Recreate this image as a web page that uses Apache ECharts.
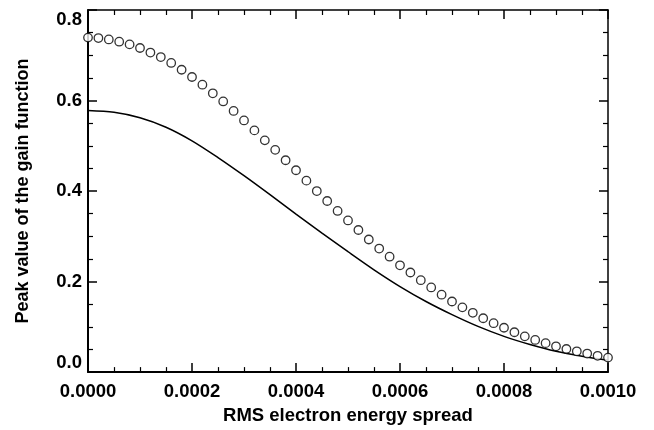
<!DOCTYPE html>
<html>
<head>
<meta charset="utf-8">
<script src="https://cdn.jsdelivr.net/npm/echarts@6/dist/echarts.min.js"></script>
<style>
html,body{margin:0;padding:0;background:#fff;}
#chart{width:654px;height:430px;}
</style>
</head>
<body>
<div id="chart"></div>
<script>
// Solid line: x values and peak gain values
var lineX = [0, 0.00005, 0.0001, 0.00015, 0.0002, 0.00025, 0.0003, 0.00035, 0.0004, 0.00045, 0.0005,
             0.00055, 0.0006, 0.00065, 0.0007, 0.00075, 0.0008, 0.00085, 0.0009, 0.00095, 0.001];
var lineY = [0.578, 0.574, 0.562, 0.541, 0.511, 0.474, 0.434, 0.392, 0.349, 0.307, 0.266,
             0.226, 0.189, 0.156, 0.127, 0.101, 0.079, 0.061, 0.046, 0.035, 0.026];

// Open circles: x values and peak gain values
var circX = [0, 0.00002, 0.00004, 0.00006, 0.00008, 0.0001, 0.00012, 0.00014, 0.00016, 0.00018,
             0.0002, 0.00022, 0.00024, 0.00026, 0.00028, 0.0003, 0.00032, 0.00034, 0.00036, 0.00038,
             0.0004, 0.00042, 0.00044, 0.00046, 0.00048, 0.0005, 0.00052, 0.00054, 0.00056, 0.00058,
             0.0006, 0.00062, 0.00064, 0.00066, 0.00068, 0.0007, 0.00072, 0.00074, 0.00076, 0.00078,
             0.0008, 0.00082, 0.00084, 0.00086, 0.00088, 0.0009, 0.00092, 0.00094, 0.00096, 0.00098, 0.001];
var circY = [0.739, 0.738, 0.735, 0.730, 0.724, 0.716, 0.706, 0.696, 0.683, 0.668,
             0.652, 0.635, 0.616, 0.598, 0.577, 0.556, 0.534, 0.512, 0.491, 0.468,
             0.446, 0.423, 0.400, 0.378, 0.356, 0.335, 0.314, 0.293, 0.273, 0.255,
             0.236, 0.220, 0.203, 0.187, 0.171, 0.156, 0.143, 0.131, 0.119, 0.108,
             0.098, 0.088, 0.079, 0.071, 0.064, 0.057, 0.051, 0.046, 0.041, 0.036, 0.032];

var xTitle = 'RMS electron energy spread';
var yTitle = 'Peak value of the gain function';

var FONT = '"Liberation Sans", Arial, sans-serif';
var chart = echarts.init(document.getElementById('chart'), null, {renderer: 'canvas'});

function pairs(xs, ys) { return xs.map(function (x, i) { return [x, ys[i]]; }); }

var axisBase = {
  axisLine: {show: true, onZero: false, lineStyle: {color: '#000', width: 2}},
  splitLine: {show: false},
  minorSplitLine: {show: false}
};

chart.setOption({
  animation: false,
  backgroundColor: '#fff',
  grid: {left: 88, right: 46, top: 10, bottom: 57, containLabel: false},
  xAxis: [
    Object.assign({}, axisBase, {
      type: 'value', position: 'bottom', min: 0, max: 0.001, interval: 0.0002,
      name: xTitle, nameLocation: 'middle', nameGap: 31,
      nameTextStyle: {fontFamily: FONT, fontWeight: 'bold', fontSize: 18.5, color: '#000'},
      axisTick: {show: true, inside: true, length: 9, lineStyle: {color: '#000', width: 1.5}},
      minorTick: {show: true, splitNumber: 4, length: 5, lineStyle: {color: '#000', width: 1.2}},
      axisLabel: {show: true, margin: 10, fontFamily: FONT, fontWeight: 'bold', fontSize: 18.5, color: '#000',
        formatter: function (v) { return v.toFixed(4); }}
    }),
    Object.assign({}, axisBase, {
      type: 'value', position: 'top', min: 0, max: 0.001, interval: 0.0002,
      axisLine: {show: true, onZero: false, lineStyle: {color: '#000', width: 1.5}},
      axisTick: {show: true, inside: true, length: 9, lineStyle: {color: '#000', width: 1.5}},
      minorTick: {show: true, splitNumber: 4, length: 5, lineStyle: {color: '#000', width: 1.2}},
      axisLabel: {show: false}
    })
  ],
  yAxis: [
    Object.assign({}, axisBase, {
      type: 'value', position: 'left', min: 0, max: 0.8, interval: 0.2,
      name: yTitle, nameLocation: 'middle', nameGap: 56, nameRotate: 90,
      nameTextStyle: {fontFamily: FONT, fontWeight: 'bold', fontSize: 18, color: '#000'},
      axisTick: {show: true, inside: true, length: 9, lineStyle: {color: '#000', width: 1.5}},
      minorTick: {show: true, splitNumber: 4, length: 5, lineStyle: {color: '#000', width: 1.2}},
      axisLabel: {show: true, margin: 6, fontFamily: FONT, fontWeight: 'bold', fontSize: 18.5, color: '#000',
        verticalAlignMinLabel: 'bottom', verticalAlignMaxLabel: 'top',
        formatter: function (v) { return v.toFixed(1); }}
    }),
    Object.assign({}, axisBase, {
      type: 'value', position: 'right', min: 0, max: 0.8, interval: 0.2,
      axisLine: {show: true, onZero: false, lineStyle: {color: '#000', width: 1.5}},
      axisTick: {show: true, inside: true, length: 9, lineStyle: {color: '#000', width: 1.5}},
      minorTick: {show: true, splitNumber: 4, length: 5, lineStyle: {color: '#000', width: 1.2}},
      axisLabel: {show: false}
    })
  ],
  series: [
    {
      type: 'line', xAxisIndex: 0, yAxisIndex: 0,
      data: pairs(lineX, lineY), smooth: 0.3, showSymbol: false,
      lineStyle: {color: '#000', width: 1.5}, z: 3
    },
    {
      type: 'scatter', xAxisIndex: 0, yAxisIndex: 0,
      data: pairs(circX, circY), symbol: 'circle', symbolSize: 8.5,
      itemStyle: {color: '#fff', borderColor: '#000', borderWidth: 1.3}, z: 4
    }
  ]
});
</script>
</body>
</html>
